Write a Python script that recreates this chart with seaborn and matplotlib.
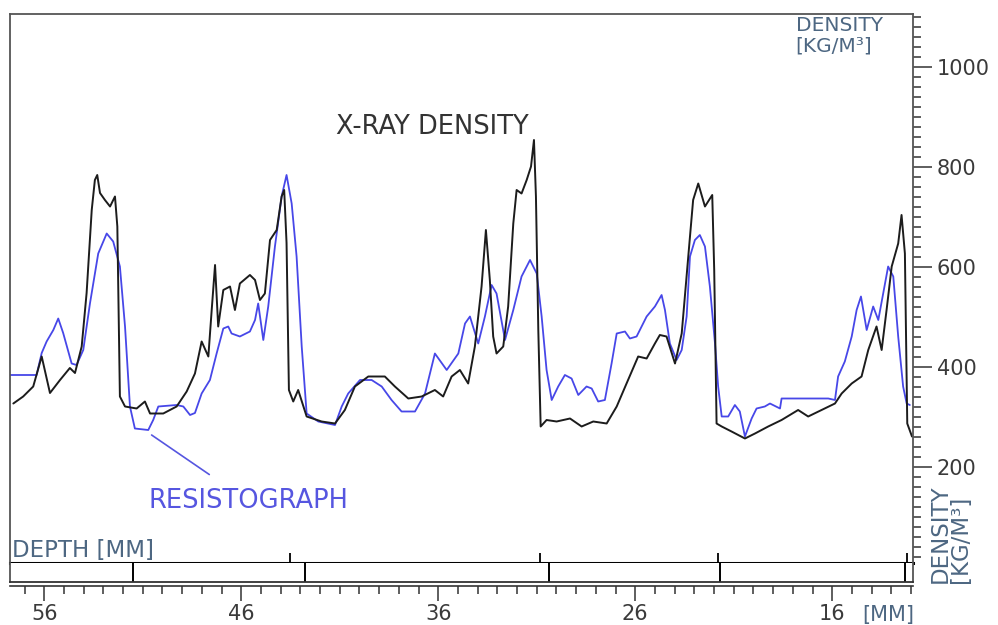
import matplotlib
matplotlib.use("Agg")
import matplotlib.pyplot as plt
import pandas as pd
import seaborn as sns
from matplotlib.ticker import MultipleLocator

# --- Data (depth in mm, density in kg/m3) ---
xray_depth = [57.57, 57.07, 56.56, 56.13, 55.71, 55.20, 54.70, 54.44, 54.10, 53.85,
              53.59, 53.43, 53.31, 53.17, 52.92, 52.66, 52.41, 52.29, 52.16, 51.90,
              51.31, 50.89, 50.63, 49.96, 49.28, 48.77, 48.35, 48.01, 47.67, 47.50,
              47.33, 47.17, 46.91, 46.57, 46.32, 46.07, 45.56, 45.30, 45.05, 44.80,
              44.54, 44.20, 43.95, 43.82, 43.70, 43.58, 43.36, 43.11, 42.68, 41.92,
              41.24, 40.74, 40.23, 39.55, 38.71, 38.20, 37.52, 36.84, 36.17, 35.75,
              35.32, 34.90, 34.48, 34.14, 33.80, 33.58, 33.38, 33.21, 33.04, 32.70,
              32.45, 32.19, 32.02, 31.77, 31.51, 31.29, 31.14, 31.04, 30.92, 30.80,
              30.50, 29.99, 29.31, 28.72, 28.13, 27.45, 26.94, 26.44, 25.85, 25.42,
              25.00, 24.75, 24.41, 23.98, 23.64, 23.22, 23.06, 22.80, 22.46, 22.09,
              21.99, 21.87, 21.61, 21.11, 20.43, 19.92, 19.25, 18.57, 17.73, 17.22,
              16.54, 15.86, 15.52, 15.01, 14.51, 14.17, 13.75, 13.49, 13.24, 12.98,
              12.65, 12.48, 12.31, 12.19, 11.95]
xray_density = [327, 341, 361, 421, 348, 374, 398, 388, 441, 548,
                714, 774, 784, 748, 734, 721, 741, 681, 341, 321,
                317, 331, 307, 307, 321, 351, 387, 451, 421, 514,
                604, 481, 554, 561, 514, 567, 584, 574, 534, 547,
                654, 674, 741, 754, 648, 354, 331, 354, 301, 291,
                287, 314, 361, 381, 381, 361, 337, 341, 354, 341,
                381, 394, 367, 441, 561, 674, 574, 461, 427, 441,
                521, 687, 754, 747, 774, 801, 854, 741, 474, 281,
                294, 291, 297, 281, 291, 287, 321, 367, 421, 417,
                447, 464, 461, 407, 467, 661, 734, 767, 721, 744,
                594, 287, 281, 271, 257, 267, 281, 294, 314, 301,
                314, 327, 347, 367, 381, 434, 481, 434, 514, 601,
                647, 704, 627, 287, 261]

res_depth = [57.74, 56.39, 56.13, 55.88, 55.54, 55.29, 55.04, 54.61, 54.36, 54.02,
             53.68, 53.26, 52.83, 52.50, 52.16, 51.90, 51.65, 51.40, 50.72, 50.47,
             50.21, 49.28, 48.94, 48.60, 48.35, 48.01, 47.59, 47.25, 46.91, 46.66,
             46.49, 46.07, 45.56, 45.30, 45.14, 44.88, 44.63, 44.29, 43.95, 43.70,
             43.44, 43.19, 42.93, 42.68, 42.09, 41.24, 40.90, 40.57, 39.97, 39.38,
             38.87, 38.37, 37.86, 37.18, 36.67, 36.17, 35.57, 34.98, 34.64, 34.39,
             33.97, 33.63, 33.29, 33.04, 32.61, 32.19, 31.77, 31.34, 31.00, 30.75,
             30.50, 30.24, 29.91, 29.57, 29.23, 28.89, 28.47, 28.21, 27.88, 27.54,
             27.20, 26.94, 26.52, 26.27, 25.93, 25.42, 25.00, 24.66, 24.49, 24.24,
             23.90, 23.64, 23.39, 23.22, 22.97, 22.72, 22.46, 22.21, 21.95, 21.79,
             21.61, 21.28, 20.94, 20.69, 20.43, 20.09, 19.84, 19.42, 19.16, 18.65,
             18.57, 16.20, 15.86, 15.70, 15.36, 15.01, 14.76, 14.54, 14.25, 13.92,
             13.66, 13.41, 13.16, 12.90, 12.65, 12.40, 12.22, 12.06]
res_density = [384, 384, 428, 451, 474, 497, 468, 407, 404, 434,
               527, 627, 667, 651, 601, 481, 321, 277, 274, 294,
               321, 324, 321, 304, 308, 347, 374, 427, 477, 481,
               467, 461, 471, 494, 527, 454, 521, 641, 741, 784,
               727, 621, 441, 307, 291, 284, 321, 347, 374, 374,
               361, 334, 311, 311, 347, 427, 394, 427, 487, 501,
               447, 501, 564, 547, 454, 514, 581, 614, 587, 501,
               394, 334, 361, 384, 377, 344, 361, 357, 331, 334,
               407, 467, 471, 457, 461, 501, 521, 544, 514, 447,
               414, 434, 501, 621, 654, 664, 641, 561, 447, 361,
               301, 301, 324, 311, 261, 297, 317, 321, 327, 317,
               337, 337, 334, 381, 411, 461, 514, 541, 474, 521,
               494, 547, 601, 581, 461, 361, 327, 324]

# depth bar segments and ring marks (mm)
strip_edges = [51.50, 42.77, 30.38, 21.70, 12.31]
ring_marks = [43.53, 30.84, 21.80, 12.21]
depth_ticks = [56, 46, 36, 26, 16]
density_ticks = [200, 400, 600, 800, 1000]

BLUE = "#4747e8"
BLACK = "#1c1c1c"
LABEL = "#4d6782"
XLIM = (57.74, 11.90)

sns.set_theme(style="white")
plt.rcParams['font.family'] = ['DejaVu Sans']

fig = plt.figure(figsize=(9.98, 6.25), dpi=100)

# main plot
ax = fig.add_axes([0.0100, 0.0992, 0.9048, 0.8784])
sns.lineplot(x=res_depth, y=res_density, ax=ax, color=BLUE, lw=1.3,
             sort=False, estimator=None)
sns.lineplot(x=xray_depth, y=xray_density, ax=ax, color=BLACK, lw=1.4,
             sort=False, estimator=None)
ax.set_xlim(*XLIM)
ax.set_ylim(8, 1106)
ax.set_xticks([])
ax.set_xlabel("")
ax.set_ylabel("")
ax.yaxis.tick_right()
ax.set_yticks(density_ticks)
ax.yaxis.set_minor_locator(MultipleLocator(20))
ax.tick_params(axis='y', which='major', right=True, length=14, width=1.1,
               color="#333333", labelsize=15, labelcolor="#3a3a3a", pad=3)
ax.tick_params(axis='y', which='minor', right=True, length=6, width=1.1,
               color="#333333")
for side in ['left', 'top', 'right']:
    ax.spines[side].set_color("#555555")
    ax.spines[side].set_linewidth(1.3)
ax.spines['bottom'].set_color("black")
ax.spines['bottom'].set_linewidth(2.2)

ax.vlines(ring_marks, 0, 0.018, transform=ax.get_xaxis_transform(),
          color="black", lw=1.3, clip_on=False)

ax.text(36.32, 880, "X-RAY DENSITY", ha="center", va="center",
        fontsize=18.5, color="#333333")
ax.annotate("RESISTOGRAPH", xy=(50.55, 264), xytext=(45.66, 132),
            ha="center", va="center", fontsize=18.5, color="#5656e0",
            arrowprops=dict(arrowstyle="-", color="#5656e0", lw=1.2,
                            shrinkA=13, shrinkB=0))
ax.text(0.870, 0.997, "DENSITY\n[KG/M³]", transform=ax.transAxes,
        ha="left", va="top", fontsize=14.5, color=LABEL, linespacing=1.15)

# depth strip
ax_s = fig.add_axes([0.0100, 0.0688, 0.9048, 0.0304])
ax_s.set_xlim(*XLIM)
ax_s.set_ylim(0, 1)
ax_s.vlines(strip_edges, 0, 1, color="black", lw=1.4)
ax_s.set_xticks([])
ax_s.set_yticks([])
ax_s.spines['top'].set_visible(False)
ax_s.spines['bottom'].set_linewidth(1.3)
ax_s.spines['bottom'].set_color("#333333")
for side in ['left', 'right']:
    ax_s.spines[side].set_color("#555555")
    ax_s.spines[side].set_linewidth(1.3)

# depth ruler
ax_r = fig.add_axes([0.0100, 1 - 586 / 625, 0.9048, 0.0005])
ax_r.set_facecolor("none")
ax_r.set_xlim(*XLIM)
ax_r.set_yticks([])
ax_r.set_xticks(depth_ticks)
ax_r.xaxis.set_minor_locator(MultipleLocator(1))
ax_r.tick_params(axis='x', which='major', bottom=True, length=11, width=1.1,
                 color="#333333", labelsize=15, labelcolor="#3a3a3a", pad=2)
ax_r.tick_params(axis='x', which='minor', bottom=True, length=6, width=1.1,
                 color="#333333")
for side in ['left', 'top', 'right']:
    ax_r.spines[side].set_visible(False)
ax_r.spines['bottom'].set_linewidth(1.2)
ax_r.spines['bottom'].set_color("#333333")

fig.text(12 / 998, 1 - 557 / 625, "DEPTH [MM]", ha="left", va="baseline",
         fontsize=16.5, color=LABEL)
fig.text(862 / 998, 1 - 621 / 625, "[MM]", ha="left", va="baseline",
         fontsize=15, color=LABEL)
fig.text(929 / 998, 1 - 583 / 625, "DENSITY\n[KG/M³]", rotation=90,
         ha="left", va="bottom", multialignment="left", fontsize=16.5,
         color=LABEL, linespacing=0.85)

fig.savefig("out.png", dpi=100)
